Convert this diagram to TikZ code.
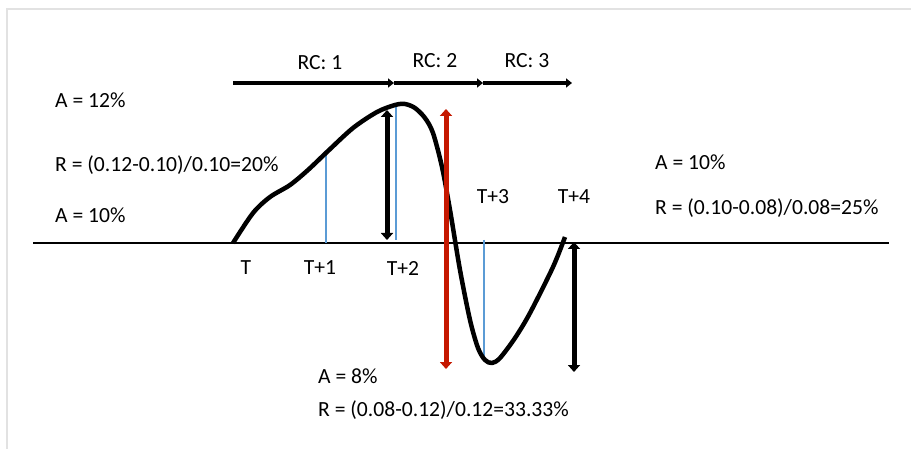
\documentclass[tikz,border=0pt]{standalone}
\usepackage{fontspec}
\setmainfont{Carlito}
\usepackage{xcolor}
\usetikzlibrary{arrows.meta, positioning}

\definecolor{framegray}{RGB}{226,226,226}
\definecolor{tickblue}{RGB}{91,155,213}
\definecolor{swingred}{RGB}{197,24,0}

\begin{document}
\begin{tikzpicture}[
  x=1pt, y=-1pt,
  label/.style={font=\fontsize{21.6}{26}\selectfont, inner sep=0pt},
  rcarrow/.style={line width=4pt, -{Triangle[width=9pt,length=6pt]}},
  tick/.style={tickblue, line width=1.6pt},
  swing/.style={line width=5pt, {Triangle[width=12pt,length=7pt]}-{Triangle[width=12pt,length=7pt]}},
]
  \useasboundingbox (0,0) rectangle (911,449);

  % Frame
  \draw[framegray, line width=2pt] (7,449) -- (7,9) -- (911,9);

  % Time axis
  \coordinate (axL) at (33,243);
  \coordinate (axR) at (889,243);
  \draw[line width=2pt] (axL) -- (axR);

  % RC arrows
  \coordinate (rc0) at (233,83);
  \coordinate (rc1) at (394,83);
  \coordinate (rc2) at (483,83);
  \coordinate (rc3) at (572,83);
  \draw[rcarrow] (rc0) -- (rc1);
  \draw[rcarrow] (rc1) -- (rc2);
  \draw[rcarrow] (rc2) -- (rc3);
  \node[label] at (320,63) (lrc1) {RC: 1};
  \node[label] at (435,61) (lrc2) {RC: 2};
  \node[label] at (527,61) (lrc3) {RC: 3};

  % Blue markers
  \coordinate (b1t) at (326,150);
  \coordinate (b1b) at (326,243);
  \coordinate (b2t) at (396,105);
  \coordinate (b2b) at (396,240);
  \coordinate (b3t) at (484,240);
  \coordinate (b3b) at (484,360);
  \draw[tick] (b1t) -- (b1b);
  \draw[tick] (b2t) -- (b2b);
  \draw[tick] (b3t) -- (b3b);

  % Price curve
  \draw[line width=4.5pt, line join=round] plot[smooth, tension=0.5] coordinates {
    (233,243) (253,213) (270,197) (290,185) (308,170) (328,151) (353,128)
    (377,112) (395,105) (405,104) (415,108) (425,118) (433,133) (442,167)
    (450,210) (460,270) (470,320) (478,348) (485,360) (492,363) (500,358)
    (515,338) (530,313) (553,267) (565,237)};

  % Swing arrows
  \coordinate (s1t) at (387,110);
  \coordinate (s1b) at (387,240);
  \coordinate (s2t) at (574,242);
  \coordinate (s2b) at (574,372);
  \coordinate (s3t) at (446,109);
  \coordinate (s3b) at (446,369);
  \draw[swing] (s1t) -- (s1b);
  \draw[swing] (s2t) -- (s2b);
  \draw[swing, swingred] (s3t) -- (s3b);

  % Time labels
  \node[label] at (246,268) (t0) {T};
  \node[label] at (320,268) (t1) {T+1};
  \node[label] at (403,268) (t2) {T+2};
  \node[label] at (493,197) (t3) {T+3};
  \node[label] at (574,197) (t4) {T+4};

  % Returns
  \node[label, anchor=west] at (55,100) (a12) {A = 12\%};
  \node[label, anchor=west] at (55,165) (r20) {R = (0.12-0.10)/0.10=20\%};
  \node[label, anchor=west] at (55,215) (a10) {A = 10\%};
  \node[label, anchor=west] at (655,162) (a10r) {A = 10\%};
  \node[label, anchor=west] at (655,208) (r25) {R = (0.10-0.08)/0.08=25\%};
  \node[label, anchor=west] at (318,376) (a8) {A = 8\%};
  \node[label, anchor=west] at (318,410) (r33) {R = (0.08-0.12)/0.12=33.33\%};
\end{tikzpicture}
\end{document}
